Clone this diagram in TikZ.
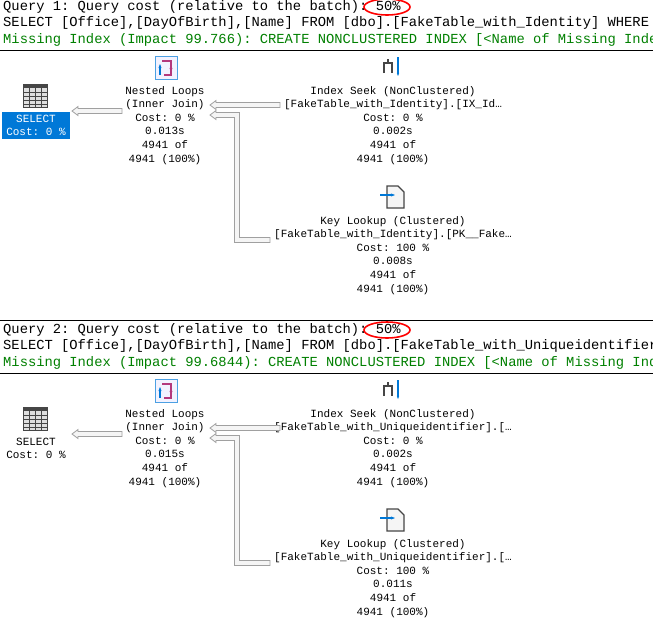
\documentclass[tikz,border=0pt]{standalone}
\usepackage{fontspec}
\usetikzlibrary{arrows.meta}
\setmonofont{Liberation Mono}
\definecolor{mygreen}{RGB}{0,128,0}
\definecolor{selblue}{RGB}{0,120,215}
\definecolor{arrg}{RGB}{160,160,160}
\definecolor{icong}{RGB}{70,70,70}
\newcommand\harr[3]{\draw[arrow] (#1,#3) -- (#1+6,#3-4.5) -- (#1+6,#3-2.5) -- (#2,#3-2.5) -- (#2,#3+2.5) -- (#1+6,#3+2.5) -- (#1+6,#3+4.5) -- cycle;}
\newcommand\earr[5]{\draw[arrow] (#1,#2) -- (#1+6,#2-4.5) -- (#1+6,#2-2.5) -- (#3+2.5,#2-2.5) -- (#3+2.5,#4-2.5) -- (#5,#4-2.5) -- (#5,#4+2.5) -- (#3-2.5,#4+2.5) -- (#3-2.5,#2+2.5) -- (#1+6,#2+2.5) -- (#1+6,#2+4.5) -- cycle;}
\begin{document}
\begin{tikzpicture}[x=1pt,y=-1pt,
  hdr/.style={anchor=west,inner sep=0pt,font=\ttfamily\fontsize{13.8}{13.8}\selectfont},
  op/.style={align=center,inner sep=0pt,font=\ttfamily\fontsize{11}{13.6}\selectfont},
  arrow/.style={draw=arrg,fill=gray!8,line width=0.8pt,line join=miter},
  sep/.style={draw=black,line width=0.8pt}]
\useasboundingbox[fill=white] (0,0) rectangle (653,625);
\foreach \q/\oy/\imp/\tab/\wh in {1/0/99.766/Identity/ WHERE, 2/323/99.6844/Uniqueidentifier/}{
  \begin{scope}[yshift=-\oy pt]
  \node[hdr] (h1\q) at (3,7) {Query \q: Query cost (relative to the batch): 50\%};
  \node[hdr] (h2\q) at (3,23) {SELECT [Office],[DayOfBirth],[Name] FROM [dbo].[FakeTable\_with\_\tab]\wh};
  \node[hdr,text=mygreen] (h3\q) at (3,40) {Missing Index (Impact \imp): CREATE NONCLUSTERED INDEX [<Name of Missing Index};
  \draw[red,line width=1.6pt] (387,7) ellipse (23pt and 8pt);
  \draw[sep] (0,50) -- (653,50);
  % SELECT icon
  \draw[icong,fill=gray!25,line width=1pt] (23,84) rectangle (47,107);
  \fill[icong] (23,84) rectangle (47,88);
  \foreach \yy in {92,96,100,104} \draw[icong,line width=1pt] (23,\yy) -- (47,\yy);
  \foreach \xx in {29,35,41} \draw[icong,line width=1pt] (\xx,88) -- (\xx,107);
  % Nested loops icon
  \draw[selblue!70,fill=blue!5,line width=1pt] (155,56) rectangle (177,79);
  \draw[magenta!70!black,line width=1.4pt] (162,61) -- (171,61) -- (171,75) -- (164,75);
  \draw[magenta!70!black,line width=1.4pt,-{Stealth[length=4pt]}] (171,64) -- (171,72);
  \draw[selblue,line width=1.4pt,-{Stealth[length=4pt]}] (160,75) -- (160,64);
  % Index seek icon
  \draw[icong,line width=1.8pt] (384,73) -- (384,63) -- (392,63) -- (392,73);
  \draw[icong,line width=1.8pt] (388,63) -- (388,59);
  \draw[selblue,line width=1.4pt,-{Stealth[length=3pt]}] (398,57) -- (398,76);
  % Key lookup icon
  \draw[icong,fill=gray!8,line width=1.2pt] (387,186) -- (398,186) -- (404,192) -- (404,208) -- (387,208) -- cycle;
  \draw[selblue,line width=1.5pt,-{Stealth[length=4pt]}] (380,195) -- (395,195);
  % texts
  \ifnum\q=1
    \node[fill=selblue,minimum width=68pt,minimum height=27pt] (selbox) at (36,125.5) {};
    \node[op,text=white] (sel\q) at (36,125.5) {SELECT\\Cost: 0 \%};
  \else
    \node[op] (sel\q) at (36,125.5) {SELECT\\Cost: 0 \%};
  \fi
  \node[op,anchor=north] (nl\q) at (165,86) {Nested Loops\\(Inner Join)\\Cost: 0 \%\\\ifnum\q=1 0.013s\else 0.015s\fi\\4941 of\\4941 (100\%)};
  \node[op,anchor=north] (is\q) at (393,86) {Index Seek (NonClustered)\\\ifnum\q=1 [FakeTable\_with\_Identity].[IX\_Id…\else [FakeTable\_with\_Uniqueidentifier].[…\fi\\Cost: 0 \%\\0.002s\\4941 of\\4941 (100\%)};
  \node[op,anchor=north] (kl\q) at (393,216) {Key Lookup (Clustered)\\\ifnum\q=1 [FakeTable\_with\_Identity].[PK\_\_Fake…\else [FakeTable\_with\_Uniqueidentifier].[…\fi\\Cost: 100 \%\\\ifnum\q=1 0.008s\else 0.011s\fi\\4941 of\\4941 (100\%)};
  \harr{72}{122}{111}
  \harr{210}{280}{105}
  \earr{210}{115}{237}{240}{270}
  \end{scope}
}
\draw[sep] (0,320) -- (653,320);
\end{tikzpicture}
\end{document}
